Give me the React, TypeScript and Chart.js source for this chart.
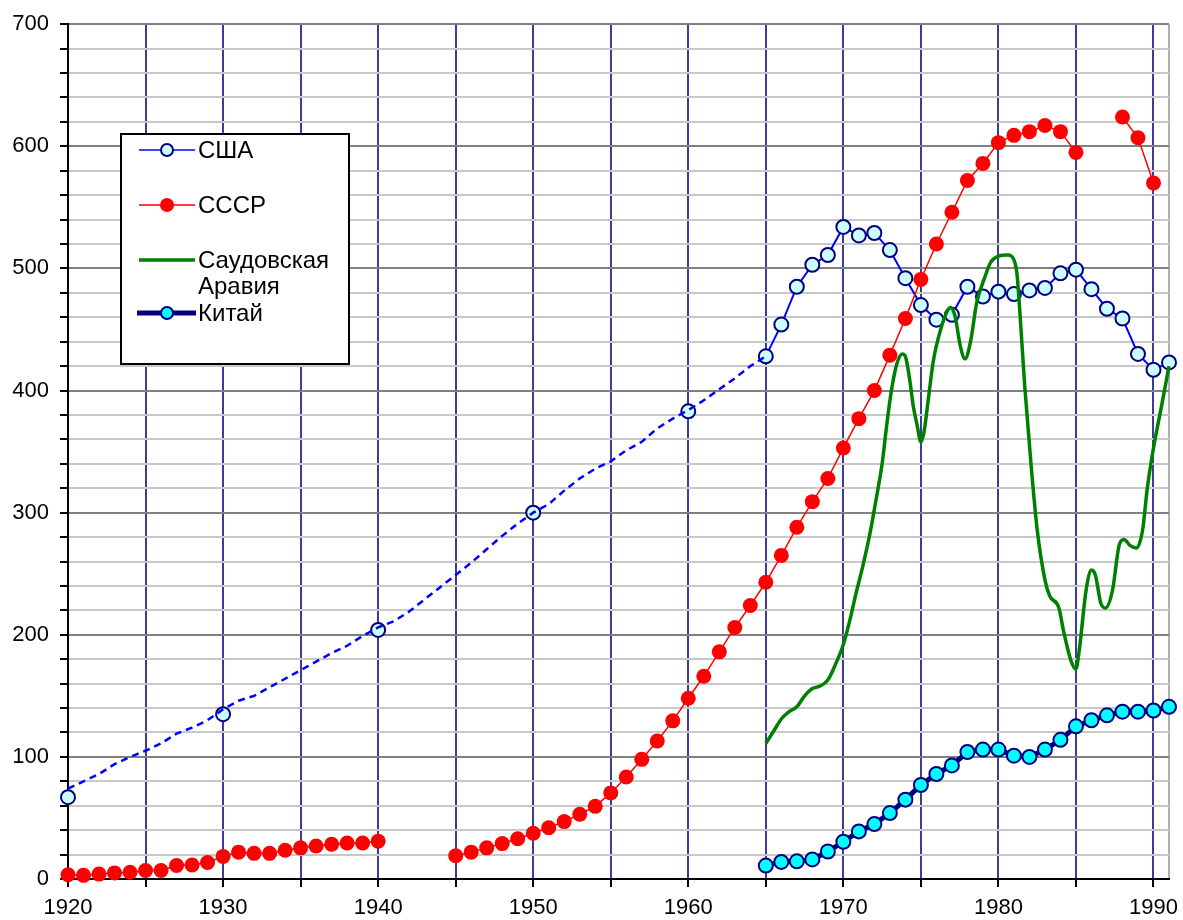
import React, { useEffect, useRef } from 'react';
import { Chart, registerables } from 'chart.js';

Chart.register(...registerables);

const FONT = '"Liberation Sans", Arial, sans-serif';

// USA dashed trend (annual, no markers), 1920–1965
const usaDashYears = [1920, 1921, 1922, 1923, 1924, 1925, 1926, 1927, 1928, 1929, 1930, 1931, 1932, 1933, 1934, 1935, 1936, 1937, 1938, 1939, 1940, 1941, 1942, 1943, 1944, 1945, 1946, 1947, 1948, 1949, 1950, 1951, 1952, 1953, 1954, 1955, 1956, 1957, 1958, 1959, 1960, 1961, 1962, 1963, 1964, 1965];
const usaDashValues = [74, 80, 86, 94, 100, 105, 111, 119, 124, 130, 139, 146, 150, 157, 164, 171, 178, 185, 191, 199, 206, 211, 219, 229, 239, 249, 259, 270, 281, 291, 300, 307, 318, 328, 336, 342, 351, 358, 369, 377, 384, 392, 401, 410, 420, 428];

// USA decade markers
const usaDecadeYears = [1920, 1930, 1940, 1950, 1960];
const usaDecadeValues = [67, 135, 204, 300, 383];

// USA annual 1965–1991
const usaYears = [1965, 1966, 1967, 1968, 1969, 1970, 1971, 1972, 1973, 1974, 1975, 1976, 1977, 1978, 1979, 1980, 1981, 1982, 1983, 1984, 1985, 1986, 1987, 1988, 1989, 1990, 1991];
const usaValues = [428, 454, 485, 503, 511, 534, 527, 529, 515, 492, 470, 458, 462, 485, 477, 481, 479, 482, 484, 496, 499, 483, 467, 459, 430, 417, 423];

// USSR annual 1920–1990 (null = no data)
const ussrYears = [1920, 1921, 1922, 1923, 1924, 1925, 1926, 1927, 1928, 1929, 1930, 1931, 1932, 1933, 1934, 1935, 1936, 1937, 1938, 1939, 1940, 1941, 1942, 1943, 1944, 1945, 1946, 1947, 1948, 1949, 1950, 1951, 1952, 1953, 1954, 1955, 1956, 1957, 1958, 1959, 1960, 1961, 1962, 1963, 1964, 1965, 1966, 1967, 1968, 1969, 1970, 1971, 1972, 1973, 1974, 1975, 1976, 1977, 1978, 1979, 1980, 1981, 1982, 1983, 1984, 1985, 1986, 1987, 1988, 1989, 1990];
const ussrValues: (number | null)[] = [3.5, 3, 4, 5, 5.5, 7, 7, 11, 11.5, 13.5, 18.5, 22, 21, 21, 23.5, 25.5, 27, 28.5, 29.5, 29.5, 31, null, null, null, null, 19, 22, 25.5, 29, 33, 37.5, 42, 47, 53, 59.5, 70.5, 83.5, 98, 113, 129.5, 148, 166, 186, 206, 224, 243, 265, 288, 309, 328, 353, 377, 400, 429, 459, 491, 520, 546, 572, 586, 603, 609, 612, 617, 612, 595, null, null, 624, 607, 570];

// Saudi Arabia (continuous curve)
const saudiX = [1965.0, 1965.5, 1966.0, 1966.5, 1967.0, 1967.5, 1968.0, 1968.5, 1969.0, 1969.5, 1970.0, 1970.4, 1970.8, 1971.25, 1971.7, 1972.1, 1972.5, 1972.8, 1973.1, 1973.45, 1973.8, 1974.0, 1974.3, 1974.5, 1974.75, 1975.0, 1975.2, 1975.5, 1975.8, 1976.25, 1976.7, 1976.9, 1977.2, 1977.55, 1977.85, 1978.2, 1978.6, 1979.1, 1979.5, 1980.0, 1980.6, 1981.0, 1981.2, 1981.4, 1981.7, 1982.1, 1982.5, 1983.0, 1983.3, 1983.9, 1984.2, 1984.7, 1985.0, 1985.2, 1985.65, 1986.0, 1986.25, 1986.6, 1986.9, 1987.35, 1987.8, 1988.1, 1988.5, 1988.9, 1989.3, 1989.6, 1990.0, 1990.5, 1991.0];
const saudiY = [111, 121, 131, 137, 141, 150, 156, 158, 163, 176, 192, 211, 233, 256, 282, 310, 340, 372, 400, 422, 430, 428, 407, 388, 372, 358, 366, 395, 424, 449, 465, 468, 461, 436, 426, 440, 472, 492, 505, 510, 511, 507, 495, 461, 403, 340, 286, 245, 232, 222, 203, 178, 172, 186, 236, 253, 249, 226, 222, 236, 274, 278, 273, 271, 286, 320, 353, 386, 420];

// China annual 1965–1991
const chinaYears = [1965, 1966, 1967, 1968, 1969, 1970, 1971, 1972, 1973, 1974, 1975, 1976, 1977, 1978, 1979, 1980, 1981, 1982, 1983, 1984, 1985, 1986, 1987, 1988, 1989, 1990, 1991];
const chinaValues = [11, 14, 14.5, 16, 22.5, 30.5, 39, 45, 54, 65, 77, 86, 93, 104, 106, 106, 101, 100, 106, 114, 125, 130, 134, 137, 137, 138, 141];

// Axis ticks
const xTickValues = [1920, 1925, 1930, 1935, 1940, 1945, 1950, 1955, 1960, 1965, 1970, 1975, 1980, 1985, 1990, 1991];
const yTickValues = [0, 20, 40, 60, 80, 100, 120, 140, 160, 180, 200, 220, 240, 260, 280, 300, 320, 340, 360, 380, 400, 420, 440, 460, 480, 500, 520, 540, 560, 580, 600, 620, 640, 660, 680, 700];

const legendLabels = ['США', 'СССР', 'Саудовская', 'Аравия', 'Китай'];

const zip = (xs: number[], ys: (number | null)[]) => xs.map((x, i) => ({ x, y: ys[i] }));

const legendPlugin = {
  id: 'customLegend',
  afterDraw(chart: any) {
    const ctx = chart.ctx as CanvasRenderingContext2D;
    ctx.save();
    ctx.fillStyle = '#ffffff';
    ctx.fillRect(121, 134, 228, 230);
    ctx.strokeStyle = '#000000';
    ctx.lineWidth = 2;
    ctx.strokeRect(121, 134, 228, 230);

    const circle = (x: number, y: number, r: number, fill: string, stroke: string | null, lw: number) => {
      ctx.beginPath();
      ctx.arc(x, y, r, 0, Math.PI * 2);
      ctx.fillStyle = fill;
      ctx.fill();
      if (stroke) {
        ctx.lineWidth = lw;
        ctx.strokeStyle = stroke;
        ctx.stroke();
      }
    };
    const line = (y: number, color: string, lw: number, x0 = 139, x1 = 195) => {
      ctx.beginPath();
      ctx.moveTo(x0, y);
      ctx.lineTo(x1, y);
      ctx.strokeStyle = color;
      ctx.lineWidth = lw;
      ctx.stroke();
    };

    line(150, '#0000ff', 1.5);
    circle(167, 150, 6, '#ccffff', '#000080', 2);
    line(205, '#ff0000', 1.5);
    circle(167, 205, 7, '#ff0000', null, 0);
    line(260, '#008000', 3.5);
    line(313, '#000080', 5, 137, 196);
    circle(167, 313, 6, '#00ffff', '#000080', 2);

    ctx.fillStyle = '#000000';
    ctx.font = `24px ${FONT}`;
    ctx.textBaseline = 'middle';
    ctx.textAlign = 'left';
    ctx.fillText(legendLabels[0], 198, 151);
    ctx.fillText(legendLabels[1], 198, 206);
    ctx.fillText(legendLabels[2], 198, 261);
    ctx.fillText(legendLabels[3], 198, 287);
    ctx.fillText(legendLabels[4], 198, 314);
    ctx.restore();
  },
};

export default function App() {
  const ref = useRef<HTMLCanvasElement>(null);

  useEffect(() => {
    const canvas = ref.current;
    if (!canvas) return;
    const chart = new Chart(canvas, {
      type: 'line',
      data: {
        datasets: [
          {
            label: 'Саудовская Аравия',
            data: zip(saudiX, saudiY),
            borderColor: '#008000',
            borderWidth: 3.5,
            pointRadius: 0,
            cubicInterpolationMode: 'monotone',
            fill: false,
            clip: false,
          },
          {
            label: 'СССР',
            data: zip(ussrYears, ussrValues),
            borderColor: '#ff0000',
            borderWidth: 1.5,
            pointRadius: 7.5,
            pointBackgroundColor: '#ff0000',
            pointBorderColor: '#ff0000',
            pointBorderWidth: 0,
            spanGaps: false,
            fill: false,
            clip: false,
          },
          {
            label: 'США тренд',
            data: zip(usaDashYears, usaDashValues),
            borderColor: '#0000ff',
            borderWidth: 2.5,
            borderDash: [7, 5],
            pointRadius: 0,
            fill: false,
            clip: false,
          },
          {
            label: 'США десятилетия',
            data: zip(usaDecadeYears, usaDecadeValues),
            showLine: false,
            pointRadius: 7,
            pointBackgroundColor: '#ccffff',
            pointBorderColor: '#000080',
            pointBorderWidth: 2,
            clip: false,
          },
          {
            label: 'США',
            data: zip(usaYears, usaValues),
            borderColor: '#0000ff',
            borderWidth: 2,
            pointRadius: 7,
            pointBackgroundColor: '#ccffff',
            pointBorderColor: '#000080',
            pointBorderWidth: 2,
            fill: false,
            clip: false,
          },
          {
            label: 'Китай',
            data: zip(chinaYears, chinaValues),
            borderColor: '#000080',
            borderWidth: 5,
            pointRadius: 7,
            pointBackgroundColor: '#00ffff',
            pointBorderColor: '#000080',
            pointBorderWidth: 2,
            fill: false,
            clip: false,
          },
        ] as any,
      },
      options: {
        responsive: false,
        animation: false,
        devicePixelRatio: 1,
        layout: { padding: { left: 0, right: 14, top: 22, bottom: 0 } },
        plugins: {
          legend: { display: false },
          tooltip: { enabled: false },
        },
        scales: {
          x: {
            type: 'linear',
            min: 1920,
            max: 1991,
            afterBuildTicks: (s: any) => {
              s.ticks = xTickValues.map((v) => ({ value: v }));
            },
            afterFit: (s: any) => {
              s.height = 41;
            },
            ticks: {
              autoSkip: false,
              maxRotation: 0,
              minRotation: 0,
              padding: 8,
              color: '#000000',
              font: { family: FONT, size: 22 },
              callback: (v: any) => (Number(v) % 10 === 0 ? String(v) : ''),
            },
            grid: {
              color: (c: any) =>
                c.tick && c.tick.value === 1920
                  ? 'rgba(0,0,0,0)'
                  : c.tick && c.tick.value === 1991
                  ? '#b0b0b0'
                  : '#3b3b9c',
              lineWidth: 2,
              tickColor: (c: any) => (c.tick && c.tick.value === 1991 ? 'rgba(0,0,0,0)' : '#000000'),
              tickLength: 8,
            },
            border: { color: '#000000', width: 2 },
          },
          y: {
            type: 'linear',
            min: 0,
            max: 700,
            afterBuildTicks: (s: any) => {
              s.ticks = yTickValues.map((v) => ({ value: v }));
            },
            afterFit: (s: any) => {
              s.width = 68;
            },
            ticks: {
              autoSkip: false,
              padding: 11,
              color: '#000000',
              font: { family: FONT, size: 22 },
              callback: (v: any) => (Number(v) % 100 === 0 ? String(v) : ''),
            },
            grid: {
              color: (c: any) =>
                c.tick && c.tick.value === 0
                  ? 'rgba(0,0,0,0)'
                  : c.tick && c.tick.value % 100 === 0
                  ? '#808080'
                  : '#c8c8c8',
              lineWidth: 2,
              tickColor: '#000000',
              tickLength: 8,
            },
            border: { color: '#000000', width: 2 },
          },
        },
      } as any,
      plugins: [legendPlugin],
    });
    return () => chart.destroy();
  }, []);

  return (
    <div style={{ position: 'absolute', left: 0, top: 0, width: 1183, height: 920, background: '#ffffff' }}>
      <canvas ref={ref} width={1183} height={920} style={{ display: 'block', width: 1183, height: 920 }} />
    </div>
  );
}
